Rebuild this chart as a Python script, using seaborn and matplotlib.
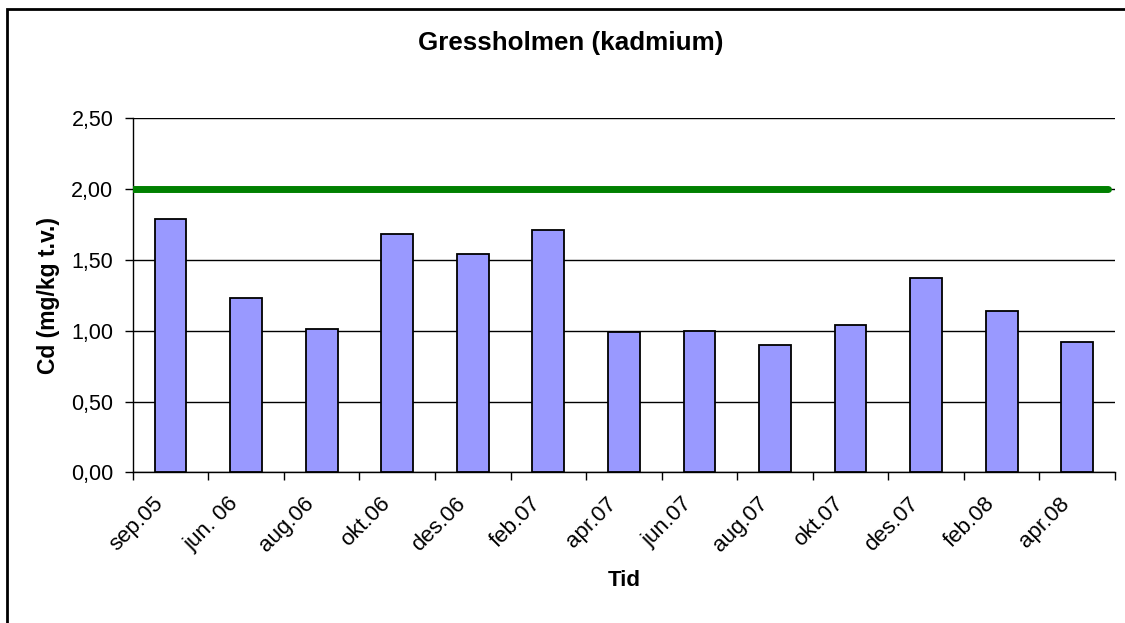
import numpy as np
import pandas as pd
import matplotlib
matplotlib.use("Agg")
import matplotlib.pyplot as plt
import matplotlib.ticker as mticker
import matplotlib.transforms as mtransforms
from matplotlib.patches import Rectangle
import seaborn as sns

# data
tid = ["sep.05", "jun. 06", "aug.06", "okt.06", "des.06", "feb.07", "apr.07",
       "jun.07", "aug.07", "okt.07", "des.07", "feb.08", "apr.08"]
cd = [1.79, 1.23, 1.01, 1.68, 1.54, 1.71, 0.99, 1.00, 0.90, 1.04, 1.37, 1.14, 0.92]
grense = 2.0
y_ticks = [0.0, 0.5, 1.0, 1.5, 2.0, 2.5]

df = pd.DataFrame({"Tid": tid, "Cd": cd})

sns.set_style("white")
plt.rcParams["font.family"] = ["Liberation Sans", "DejaVu Sans"]
plt.rcParams["text.color"] = "black"
plt.rcParams["axes.labelcolor"] = "black"

fig = plt.figure(figsize=(11.25, 6.23), dpi=100)
ax = fig.add_axes([0.118, 0.2419, 0.8731, 0.5681])

sns.barplot(data=df, x="Tid", y="Cd", color="#9999FF", edgecolor="black",
            linewidth=1.3, width=0.42, saturation=1, ax=ax, zorder=3)

ax.axhline(grense, xmin=0, xmax=0.993, color="#008000", linewidth=5, zorder=4)

ax.set_xlim(-0.5, len(tid) - 0.5)
ax.set_ylim(0, 2.5)
ax.set_yticks(y_ticks)
ax.yaxis.set_major_formatter(mticker.FuncFormatter(lambda v, p: f"{v:.2f}".replace(".", ",")))
ax.yaxis.grid(True, color="black", linewidth=1.0, zorder=0)
ax.set_axisbelow(True)

for s in ["top", "right"]:
    ax.spines[s].set_visible(False)
for s in ["left", "bottom"]:
    ax.spines[s].set_color("black")
    ax.spines[s].set_linewidth(1.0)

ax.tick_params(axis="y", which="major", left=True, length=6, width=1, color="black",
               labelsize=15.5, labelcolor="black", pad=8)
ax.set_xticks(np.arange(len(tid)))
ax.set_xticklabels(tid, rotation=45, ha="right", rotation_mode="anchor")
ax.set_xticks(np.arange(len(tid) + 1) - 0.5, minor=True)
ax.tick_params(axis="x", which="major", bottom=True, length=0, labelsize=16,
               labelcolor="black", pad=15)
ax.tick_params(axis="x", which="minor", bottom=True, length=6, width=1, color="black")
offset = mtransforms.ScaledTranslation(-18 / 100, 0, fig.dpi_scale_trans)
for lab in ax.get_xticklabels():
    lab.set_transform(lab.get_transform() + offset)

ax.set_xlabel("Tid", fontsize=16, fontweight="bold", va="center")
ax.xaxis.set_label_coords(0.5, -0.307)
ax.set_ylabel("Cd (mg/kg t.v.)", fontsize=16.5, fontweight="bold", va="center")
ax.yaxis.set_label_coords(-0.086, 0.5)

fig.text(0.507, 0.9305, "Gressholmen (kadmium)", fontsize=18.7, fontweight="bold",
         ha="center", va="center")

# chart area frame (right and bottom edges fall outside the picture)
fig.patches.append(Rectangle((7 / 1125, -0.05), 1.2, 1 - 9 / 623 + 0.05,
                             transform=fig.transFigure, fill=False,
                             edgecolor="black", linewidth=2))

fig.savefig("out.png", dpi=100)
